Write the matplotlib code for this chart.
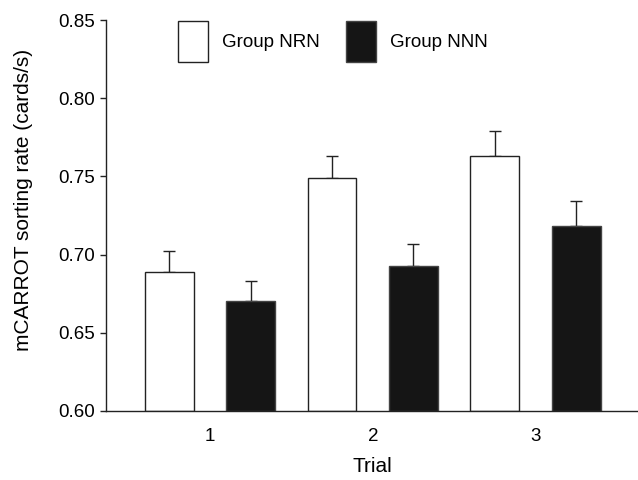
import matplotlib
matplotlib.use("Agg")
import matplotlib.pyplot as plt
import numpy as np
from matplotlib.patches import Patch

plt.rcParams['font.family'] = ['Liberation Sans', 'DejaVu Sans']

# donnees
trials = [1, 2, 3]
nrn_mean = [0.689, 0.749, 0.763]
nrn_err = [0.013, 0.014, 0.016]
nnn_mean = [0.670, 0.693, 0.718]
nnn_err = [0.013, 0.014, 0.016]
groups = ["Group NRN", "Group NNN"]

fig = plt.figure(figsize=(6.38, 4.8), dpi=100)
ax = fig.add_axes([0.166, 0.144, 0.834, 0.814])

x = np.array(trials, dtype=float)
w = 0.3
edge = "#222222"
black = "#151515"

ax.bar(x - 0.25, np.array(nrn_mean) - 0.6, w, bottom=0.6, color="white",
       edgecolor=edge, linewidth=1.0, zorder=2)
ax.bar(x + 0.25, np.array(nnn_mean) - 0.6, w, bottom=0.6, color=black,
       edgecolor="#444444", linewidth=1.0, zorder=2)

err_kw = dict(fmt="none", ecolor=edge, elinewidth=1.0, capsize=4,
              capthick=1.0, zorder=1)
ax.errorbar(x - 0.25, nrn_mean, yerr=[np.zeros(3), nrn_err], **err_kw)
ax.errorbar(x + 0.25, nnn_mean, yerr=[np.zeros(3), nnn_err], **err_kw)

ax.set_xlim(0.36, 3.63)
ax.set_ylim(0.60, 0.85)
ax.set_yticks([0.60, 0.65, 0.70, 0.75, 0.80, 0.85])
ax.set_yticklabels(["0.60", "0.65", "0.70", "0.75", "0.80", "0.85"])
ax.set_xticks(trials)
ax.tick_params(axis="y", direction="out", length=4.5, width=1.0,
               labelsize=13.5, pad=3, color="#222222")
ax.tick_params(axis="x", length=0, labelsize=13.5, pad=12)

for s in ["top", "right"]:
    ax.spines[s].set_visible(False)
ax.spines["left"].set_linewidth(1.0)
ax.spines["bottom"].set_linewidth(1.0)
ax.spines["left"].set_color("#222222")
ax.spines["bottom"].set_color("#222222")

ax.set_xlabel("Trial", fontsize=15, va="center")
ax.set_ylabel("mCARROT sorting rate (cards/s)", fontsize=15, va="center")
ax.xaxis.set_label_coords(0.5, -0.143)
ax.yaxis.set_label_coords(-0.154, 0.54)

handles = [Patch(facecolor="white", edgecolor=edge, linewidth=1.0),
           Patch(facecolor=black, edgecolor="#444444", linewidth=1.0)]
ax.legend(handles, groups, loc="upper left", bbox_to_anchor=(0.135, 0.997),
          ncol=2, frameon=False, fontsize=13.5, handlelength=1.6,
          handleheight=3.0, handletextpad=0.75, columnspacing=1.4,
          borderpad=0, borderaxespad=0)

fig.savefig("out.png", dpi=100)
